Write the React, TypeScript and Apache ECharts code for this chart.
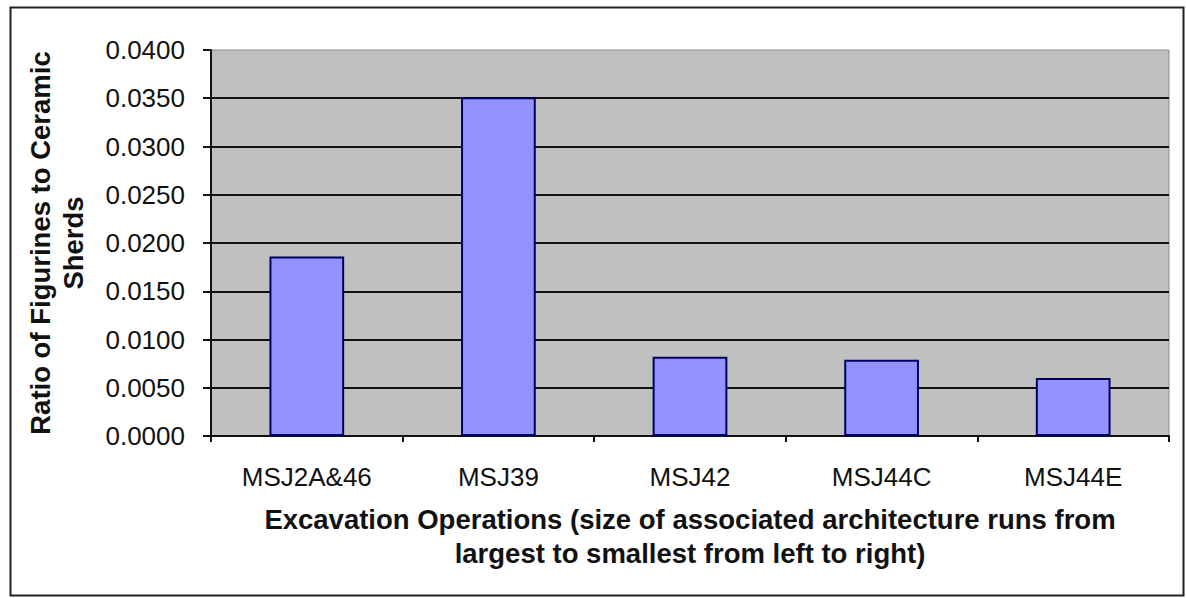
import React, { useEffect, useRef } from "react";
import * as echarts from "echarts";

const categories = ["MSJ2A&46", "MSJ39", "MSJ42", "MSJ44C", "MSJ44E"];
const ratios = [0.0186, 0.0351, 0.0082, 0.0079, 0.006];
const yTicks = { min: 0, max: 0.04, interval: 0.005 };
const xTitle =
  "Excavation Operations (size of associated architecture runs from\nlargest to smallest from left to right)";
const yTitle = "Ratio of Figurines to Ceramic\nSherds";

export default function App() {
  const ref = useRef<HTMLDivElement>(null);
  useEffect(() => {
    if (!ref.current) return;
    const chart = echarts.init(ref.current, null, { renderer: "svg" });
    chart.setOption({
      animation: false,
      backgroundColor: "#ffffff",
      textStyle: { fontFamily: "Liberation Sans, Arial, sans-serif" },
      graphic: [
        {
          type: "rect",
          shape: { x: 10.5, y: 7.5, width: 1173, height: 588 },
          style: { fill: "none", stroke: "#222", lineWidth: 2 },
          z: -10,
        },
      ],
      grid: {
        left: 211,
        top: 50,
        right: 17,
        bottom: 162,
        show: true,
        backgroundColor: "#C0C0C0",
        borderColor: "#8a8a8a",
        borderWidth: 1,
      },
      xAxis: {
        type: "category",
        data: categories,
        axisLine: { show: true, lineStyle: { color: "#111", width: 2 } },
        axisTick: { show: true, length: 6, lineStyle: { color: "#111", width: 2 } },
        axisLabel: { fontSize: 26, color: "#111", margin: 28 },
        name: xTitle,
        nameLocation: "middle",
        nameGap: 66,
        nameTextStyle: {
          fontSize: 27.5,
          fontWeight: "bold",
          color: "#111",
          lineHeight: 34,
          align: "center",
        },
      },
      yAxis: {
        type: "value",
        min: yTicks.min,
        max: yTicks.max,
        interval: yTicks.interval,
        axisLine: { show: true, lineStyle: { color: "#111", width: 2 } },
        axisTick: { show: true, length: 8, lineStyle: { color: "#111", width: 2 } },
        axisLabel: {
          fontSize: 26,
          color: "#111",
          margin: 26,
          formatter: (v: number) => v.toFixed(4),
        },
        splitLine: {
          show: true,
          showMaxLine: false,
          lineStyle: { color: "#111", width: 2 },
        },
        name: yTitle,
        nameLocation: "middle",
        nameRotate: 90,
        nameGap: 121,
        nameTextStyle: {
          fontSize: 27.5,
          fontWeight: "bold",
          color: "#111",
          lineHeight: 33,
          align: "center",
        },
      },
      series: [
        {
          type: "bar",
          data: ratios,
          barCategoryGap: "61%",
          itemStyle: { color: "#9393FF", borderColor: "#000060", borderWidth: 2 },
        },
      ],
    });
    return () => chart.dispose();
  }, []);
  return (
    <div
      ref={ref}
      style={{ position: "fixed", left: 0, top: 0, width: 1186, height: 598 }}
    />
  );
}
